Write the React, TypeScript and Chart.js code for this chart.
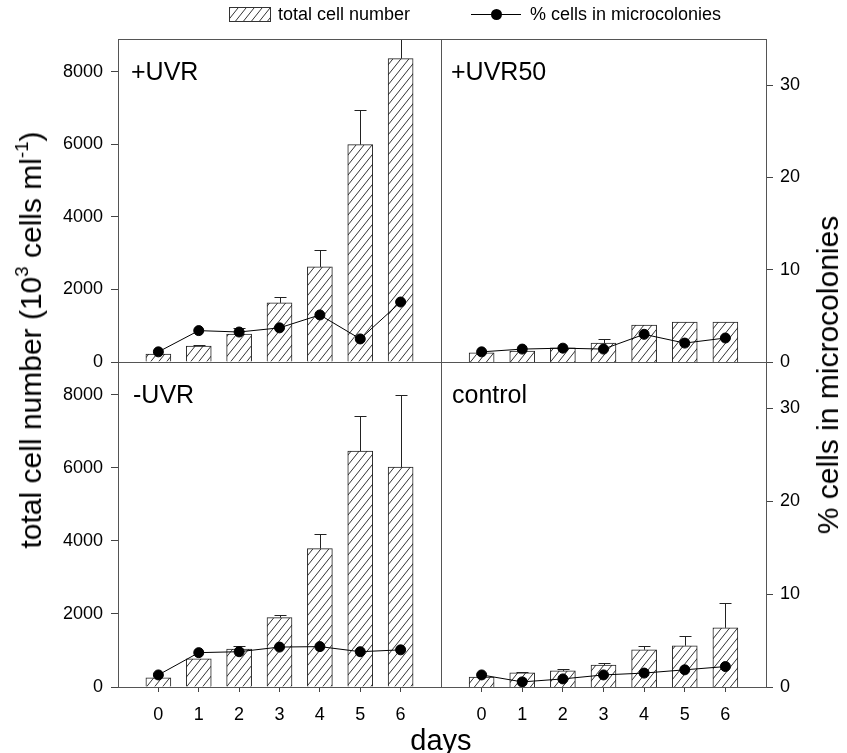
import React, { useEffect, useRef, useMemo } from 'react';
import { Chart, registerables } from 'chart.js';

Chart.register(...registerables);

const W = 847;
const H = 753;
const FONT = '"Liberation Sans", Arial, Helvetica, sans-serif';

// ---- data ----
const days = [0, 1, 2, 3, 4, 5, 6];
const dayTicks = [0, 1, 2, 3, 4, 5, 6];
const cellTicks = [0, 2000, 4000, 6000, 8000];
const pctTicks = [0, 10, 20, 30];
const CELL_MAX = 8900;
const PCT_MAX = 35;

const uvrCells = [220, 440, 770, 1630, 2620, 5990, 8360];
const uvrCellsErr = [0, 40, 170, 170, 470, 960, 700];
const uvrPct = [1.1, 3.4, 3.25, 3.7, 5.1, 2.5, 6.5];

const uvr50Cells = [250, 300, 390, 520, 1020, 1100, 1100];
const uvr50CellsErr = [0, 0, 0, 110, 0, 0, 0];
const uvr50Pct = [1.1, 1.4, 1.5, 1.4, 3.0, 2.05, 2.6];

const minusCells = [250, 770, 1040, 1900, 3790, 6460, 6020];
const minusCellsErr = [0, 0, 70, 80, 410, 960, 1980];
const minusPct = [1.3, 3.7, 3.8, 4.3, 4.35, 3.8, 4.0];

const controlCells = [275, 385, 440, 600, 1020, 1130, 1620];
const controlCellsErr = [0, 25, 60, 60, 110, 270, 690];
const controlPct = [1.3, 0.55, 0.87, 1.3, 1.5, 1.85, 2.2];

type Box = { l: number; t: number; r: number; b: number };
type PanelDef = {
  key: string;
  label: string;
  cells: number[];
  err: number[];
  pct: number[];
  box: Box;
  left: boolean;
  right: boolean;
  xAxis: boolean;
  dx: number;
};

const panels: PanelDef[] = [
  { key: 'tl', label: '+UVR', cells: uvrCells, err: uvrCellsErr, pct: uvrPct, box: { l: 118, t: 39, r: 441, b: 362 }, left: true, right: false, xAxis: false, dx: 13 },
  { key: 'tr', label: '+UVR50', cells: uvr50Cells, err: uvr50CellsErr, pct: uvr50Pct, box: { l: 441, t: 39, r: 766, b: 362 }, left: false, right: true, xAxis: false, dx: 10 },
  { key: 'bl', label: '-UVR', cells: minusCells, err: minusCellsErr, pct: minusPct, box: { l: 118, t: 362, r: 441, b: 687 }, left: true, right: false, xAxis: true, dx: 15 },
  { key: 'br', label: 'control', cells: controlCells, err: controlCellsErr, pct: controlPct, box: { l: 441, t: 362, r: 766, b: 687 }, left: false, right: true, xAxis: true, dx: 11 },
];

function makeHatch(): HTMLCanvasElement {
  const c = document.createElement('canvas');
  const w = 8;
  const h = 10;
  c.width = w;
  c.height = h;
  const x = c.getContext('2d')!;
  x.fillStyle = '#ffffff';
  x.fillRect(0, 0, w, h);
  x.strokeStyle = '#333333';
  x.lineWidth = 1;
  x.beginPath();
  x.moveTo(-w, 2 * h);
  x.lineTo(2 * w, -h);
  x.moveTo(-w, h);
  x.lineTo(w, -h);
  x.moveTo(0, 2 * h);
  x.lineTo(2 * w, 0);
  x.stroke();
  return c;
}

const errorBars = {
  id: 'errorBars',
  afterDatasetDraw(chart: any, args: any) {
    if (args.index !== 0) return;
    const ds = chart.data.datasets[0];
    const errs: number[] = ds.errors || [];
    const meta = chart.getDatasetMeta(0);
    const ys = chart.scales.y;
    const ca = chart.chartArea;
    const ctx = chart.ctx;
    ctx.save();
    ctx.beginPath();
    ctx.rect(ca.left, ca.top, ca.right - ca.left, ca.bottom - ca.top);
    ctx.clip();
    ctx.strokeStyle = '#222';
    ctx.lineWidth = 1;
    meta.data.forEach((bar: any, i: number) => {
      const e = errs[i];
      if (!e) return;
      const v = ds.data[i].y;
      const yTop = Math.round(ys.getPixelForValue(v + e)) + 0.5;
      const x = Math.round(bar.x) + 0.5;
      ctx.beginPath();
      ctx.moveTo(x, bar.y);
      ctx.lineTo(x, yTop);
      ctx.moveTo(x - 6, yTop);
      ctx.lineTo(x + 6, yTop);
      ctx.stroke();
    });
    ctx.restore();
  },
};

const frame = {
  id: 'frame',
  afterDraw(chart: any) {
    const ca = chart.chartArea;
    const ctx = chart.ctx;
    ctx.save();
    ctx.strokeStyle = '#555';
    ctx.lineWidth = 1;
    ctx.strokeRect(Math.round(ca.left) + 0.5, Math.round(ca.top) + 0.5, Math.round(ca.right - ca.left), Math.round(ca.bottom - ca.top));
    ctx.restore();
  },
};

const panelLabel = {
  id: 'panelLabel',
  afterDraw(chart: any, _args: any, opts: any) {
    const ca = chart.chartArea;
    const ctx = chart.ctx;
    ctx.save();
    ctx.fillStyle = '#000';
    ctx.font = `25px ${FONT}`;
    ctx.textBaseline = 'alphabetic';
    ctx.textAlign = 'left';
    ctx.fillText(opts.text, ca.left + opts.dx, ca.top + 41);
    ctx.restore();
  },
};

function Panel({ def, hatch }: { def: PanelDef; hatch: HTMLCanvasElement }) {
  const ref = useRef<HTMLCanvasElement>(null);
  useEffect(() => {
    const canvas = ref.current!;
    const ctx = canvas.getContext('2d')!;
    const pattern = ctx.createPattern(hatch, 'repeat');
    const { box } = def;
    const padding = {
      left: box.l - (def.left ? 60 : 0),
      right: W - box.r - (def.right ? 60 : 0),
      top: box.t,
      bottom: H - box.b - (def.xAxis ? 40 : 0),
    };
    const tickFont = { family: FONT, size: 18 };
    const chart = new Chart(canvas, {
      type: 'bar',
      data: {
        datasets: [
          {
            type: 'bar',
            label: 'total cell number',
            data: days.map((d, i) => ({ x: d, y: def.cells[i] })),
            errors: def.err,
            backgroundColor: pattern as any,
            borderColor: '#222',
            borderWidth: 1,
            barThickness: 25,
            yAxisID: 'y',
            order: 1,
          } as any,
          {
            type: 'line',
            label: '% cells in microcolonies',
            data: days.map((d, i) => ({ x: d, y: def.pct[i] })),
            borderColor: '#000',
            borderWidth: 1,
            pointRadius: 5,
            pointBackgroundColor: '#000',
            pointBorderColor: '#000',
            yAxisID: 'y1',
            order: 0,
          } as any,
        ],
      },
      options: {
        responsive: false,
        animation: false,
        devicePixelRatio: 1,
        layout: { padding },
        plugins: {
          legend: { display: false },
          tooltip: { enabled: false },
          panelLabel: { text: def.label, dx: def.dx },
        } as any,
        scales: {
          x: {
            type: 'linear',
            min: -1,
            max: 7,
            offset: false,
            display: def.xAxis,
            position: 'bottom',
            afterBuildTicks: (s: any) => {
              s.ticks = dayTicks.map((v) => ({ value: v }));
            },
            afterFit: (s: any) => {
              s.height = def.xAxis ? 40 : 0;
            },
            grid: { offset: false, drawOnChartArea: false, drawTicks: true, tickLength: 5, color: '#444' },
            border: { display: false },
            ticks: { font: tickFont, color: '#000', padding: 12, maxRotation: 0, callback: (v: any) => String(v) },
          },
          y: {
            type: 'linear',
            min: 0,
            max: CELL_MAX,
            display: def.left,
            position: 'left',
            afterBuildTicks: (s: any) => {
              s.ticks = cellTicks.map((v) => ({ value: v }));
            },
            afterFit: (s: any) => {
              s.width = def.left ? 60 : 0;
            },
            grid: { drawOnChartArea: false, drawTicks: true, tickLength: 7, color: '#444' },
            border: { display: false },
            ticks: { font: tickFont, color: '#000', padding: 8, callback: (v: any) => String(v) },
          },
          y1: {
            type: 'linear',
            min: 0,
            max: PCT_MAX,
            display: def.right,
            position: 'right',
            afterBuildTicks: (s: any) => {
              s.ticks = pctTicks.map((v) => ({ value: v }));
            },
            afterFit: (s: any) => {
              s.width = def.right ? 60 : 0;
            },
            grid: { drawOnChartArea: false, drawTicks: true, tickLength: 7, color: '#444' },
            border: { display: false },
            ticks: { font: tickFont, color: '#000', padding: 7, callback: (v: any) => String(v) },
          },
        },
      } as any,
      plugins: [errorBars, frame, panelLabel],
    });
    return () => chart.destroy();
  }, [def, hatch]);
  return (
    <canvas
      ref={ref}
      width={W}
      height={H}
      style={{ position: 'absolute', left: 0, top: 0, width: W, height: H }}
    />
  );
}

export default function App() {
  const hatch = useMemo(() => makeHatch(), []);
  const hatchUrl = useMemo(() => hatch.toDataURL(), [hatch]);
  const txt: React.CSSProperties = { position: 'absolute', fontFamily: FONT, color: '#000', whiteSpace: 'nowrap' };
  const sup: React.CSSProperties = { fontSize: '0.62em', verticalAlign: '0.7em', lineHeight: 0 };
  return (
    <div style={{ position: 'absolute', left: 0, top: 0, width: W, height: H, background: '#fff', overflow: 'hidden' }}>
      {panels.map((p) => (
        <Panel key={p.key} def={p} hatch={hatch} />
      ))}
      {/* legend */}
      <div style={{ position: 'absolute', left: 229, top: 7, width: 40, height: 13, border: '1px solid #333', backgroundImage: `url(${hatchUrl})` }} />
      <div style={{ ...txt, left: 278, top: 4, fontSize: 18, lineHeight: '20px' }}>total cell number</div>
      <div style={{ position: 'absolute', left: 471, top: 14, width: 50, height: 1, background: '#000' }} />
      <div style={{ position: 'absolute', left: 491, top: 9, width: 11, height: 11, borderRadius: '50%', background: '#000' }} />
      <div style={{ ...txt, left: 530, top: 4, fontSize: 18, lineHeight: '20px' }}>% cells in microcolonies</div>
      {/* axis titles */}
      <div style={{ ...txt, left: 31, top: 340, fontSize: 30, lineHeight: '36px', transform: 'translate(-50%, -50%) rotate(-90deg)' }}>
        total cell number (10<sup style={sup}>3</sup> cells ml<sup style={sup}>-1</sup>)
      </div>
      <div style={{ ...txt, left: 828, top: 375, fontSize: 30, lineHeight: '34px', transform: 'translate(-50%, -50%) rotate(-90deg)' }}>
        % cells in microcolonies
      </div>
      <div style={{ ...txt, left: 441, top: 740, fontSize: 29, lineHeight: '34px', transform: 'translate(-50%, -50%)' }}>days</div>
    </div>
  );
}
